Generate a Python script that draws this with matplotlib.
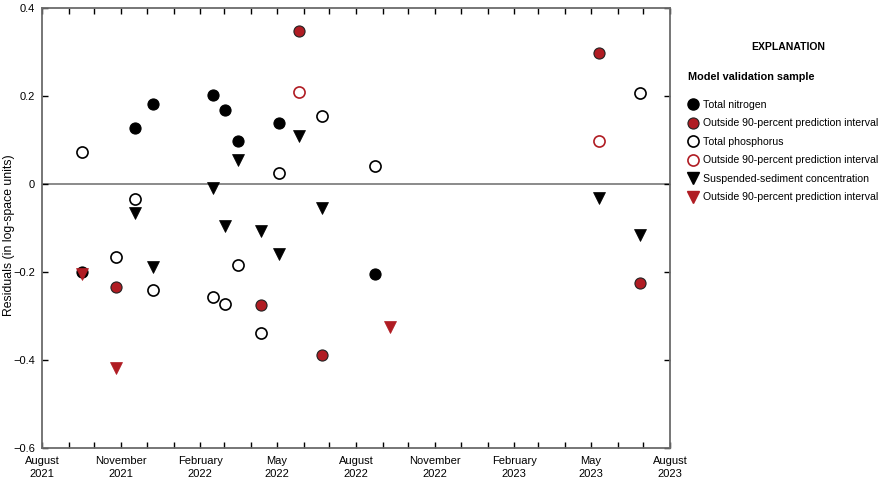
import matplotlib
matplotlib.use('Agg')
import matplotlib.pyplot as plt
import matplotlib.dates as mdates
from matplotlib.lines import Line2D
import pandas as pd

plt.rcParams['font.family'] = ['Liberation Sans', 'DejaVu Sans']
plt.rcParams['font.size'] = 8

# model validation residuals
tn_dates = ['2021-09-16', '2021-11-17', '2021-12-08', '2022-02-16', '2022-03-02',
            '2022-03-17', '2022-05-03', '2022-08-23']
tn_vals = [-0.200, 0.128, 0.181, 0.202, 0.169, 0.098, 0.139, -0.205]
tn_out_dates = ['2021-10-26', '2022-04-13', '2022-05-27', '2022-06-22', '2023-05-11', '2023-06-27']
tn_out_vals = [-0.234, -0.275, 0.348, -0.389, 0.298, -0.225]

tp_dates = ['2021-09-16', '2021-10-26', '2021-11-17', '2021-12-08', '2022-02-16', '2022-03-02',
            '2022-03-17', '2022-04-13', '2022-05-03', '2022-06-22', '2022-08-23', '2023-06-27']
tp_vals = [0.073, -0.167, -0.034, -0.240, -0.257, -0.273, -0.185, -0.339, 0.025, 0.155, 0.042, 0.207]
tp_out_dates = ['2022-05-27', '2023-05-11']
tp_out_vals = [0.208, 0.098]

ssc_dates = ['2021-11-17', '2021-12-08', '2022-02-16', '2022-03-02', '2022-03-17', '2022-04-13',
             '2022-05-03', '2022-05-27', '2022-06-22', '2023-05-11', '2023-06-27']
ssc_vals = [-0.067, -0.189, -0.010, -0.095, 0.055, -0.106, -0.158, 0.109, -0.054, -0.031, -0.116]
ssc_out_dates = ['2021-09-16', '2021-10-26', '2022-09-09']
ssc_out_vals = [-0.205, -0.418, -0.324]

legend_labels = ['Total nitrogen', 'Outside 90-percent prediction interval',
                 'Total phosphorus', 'Outside 90-percent prediction interval',
                 'Suspended-sediment concentration', 'Outside 90-percent prediction interval']

red = '#b01c23'
spine = '#6b6b6b'

fig = plt.figure(figsize=(8.89, 4.9), dpi=100)
ax = fig.add_axes([42 / 889, 42 / 490, 628 / 889, 440 / 490])

ax.axhline(0, color=spine, lw=1.1, zorder=1)

d = pd.to_datetime
ms = 8
ax.plot(d(tn_dates), tn_vals, 'o', ms=ms, mfc='black', mec='black', mew=0.8, ls='none', zorder=3)
ax.plot(d(tn_out_dates), tn_out_vals, 'o', ms=ms, mfc=red, mec='#222222', mew=0.8, ls='none', zorder=3)
ax.plot(d(tp_dates), tp_vals, 'o', ms=ms, mfc='white', mec='black', mew=1.2, ls='none', zorder=3)
ax.plot(d(tp_out_dates), tp_out_vals, 'o', ms=ms, mfc='white', mec=red, mew=1.2, ls='none', zorder=3)
ax.plot(d(ssc_dates), ssc_vals, 'v', ms=ms, mfc='black', mec='black', mew=0.5, ls='none', zorder=4)
ax.plot(d(ssc_out_dates), ssc_out_vals, 'v', ms=ms, mfc=red, mec=red, mew=0.5, ls='none', zorder=4)

ax.set_xlim(d('2021-08-01'), d('2023-08-01'))
ax.set_ylim(-0.6, 0.4)
ax.set_yticks([-0.6, -0.4, -0.2, 0, 0.2, 0.4])
ax.set_yticklabels(['\u22120.6', '\u22120.4', '\u22120.2', '0', '0.2', '0.4'])
ax.xaxis.set_major_locator(mdates.MonthLocator(bymonth=[2, 5, 8, 11]))
ax.xaxis.set_minor_locator(mdates.MonthLocator())
ax.xaxis.set_major_formatter(mdates.DateFormatter('%B\n%Y'))
ax.tick_params(axis='both', which='both', direction='in', length=4.5, width=1,
               color='black', top=True, right=True, labelsize=8)
ax.tick_params(axis='x', pad=6)
ax.tick_params(axis='y', pad=5)
for lab in ax.get_xticklabels():
    lab.set_ha('center')
    lab.set_linespacing(1.35)
for s in ax.spines.values():
    s.set_color(spine)
    s.set_linewidth(1.3)
fig.text(9 / 889, 1 - 235 / 490, 'Residuals (in log-space units)', rotation=90,
         ha='center', va='center', fontsize=8.8)

handles = [
    Line2D([], [], marker='o', ls='none', ms=ms, mfc='black', mec='black'),
    Line2D([], [], marker='o', ls='none', ms=ms, mfc=red, mec='#222222', mew=0.8),
    Line2D([], [], marker='o', ls='none', ms=ms, mfc='white', mec='black', mew=1.2),
    Line2D([], [], marker='o', ls='none', ms=ms, mfc='white', mec=red, mew=1.2),
    Line2D([], [], marker='v', ls='none', ms=ms, mfc='black', mec='black'),
    Line2D([], [], marker='v', ls='none', ms=ms, mfc=red, mec=red),
]
fig.text(788 / 889, 1 - 47 / 490, 'EXPLANATION', ha='center', va='center',
         fontsize=7.5, fontweight='bold')
leg = fig.legend(handles, legend_labels, loc='upper left',
                 bbox_to_anchor=(688 / 889, 1 - 72 / 490), frameon=False,
                 title='Model validation sample', title_fontproperties={'weight': 'bold', 'size': 7.8},
                 fontsize=7.6, handletextpad=0.45, handlelength=1.0, labelspacing=0.8,
                 borderaxespad=0, borderpad=0)
leg._legend_box.align = 'left'
leg._legend_box.sep = 13

fig.savefig('out.png', dpi=100)
